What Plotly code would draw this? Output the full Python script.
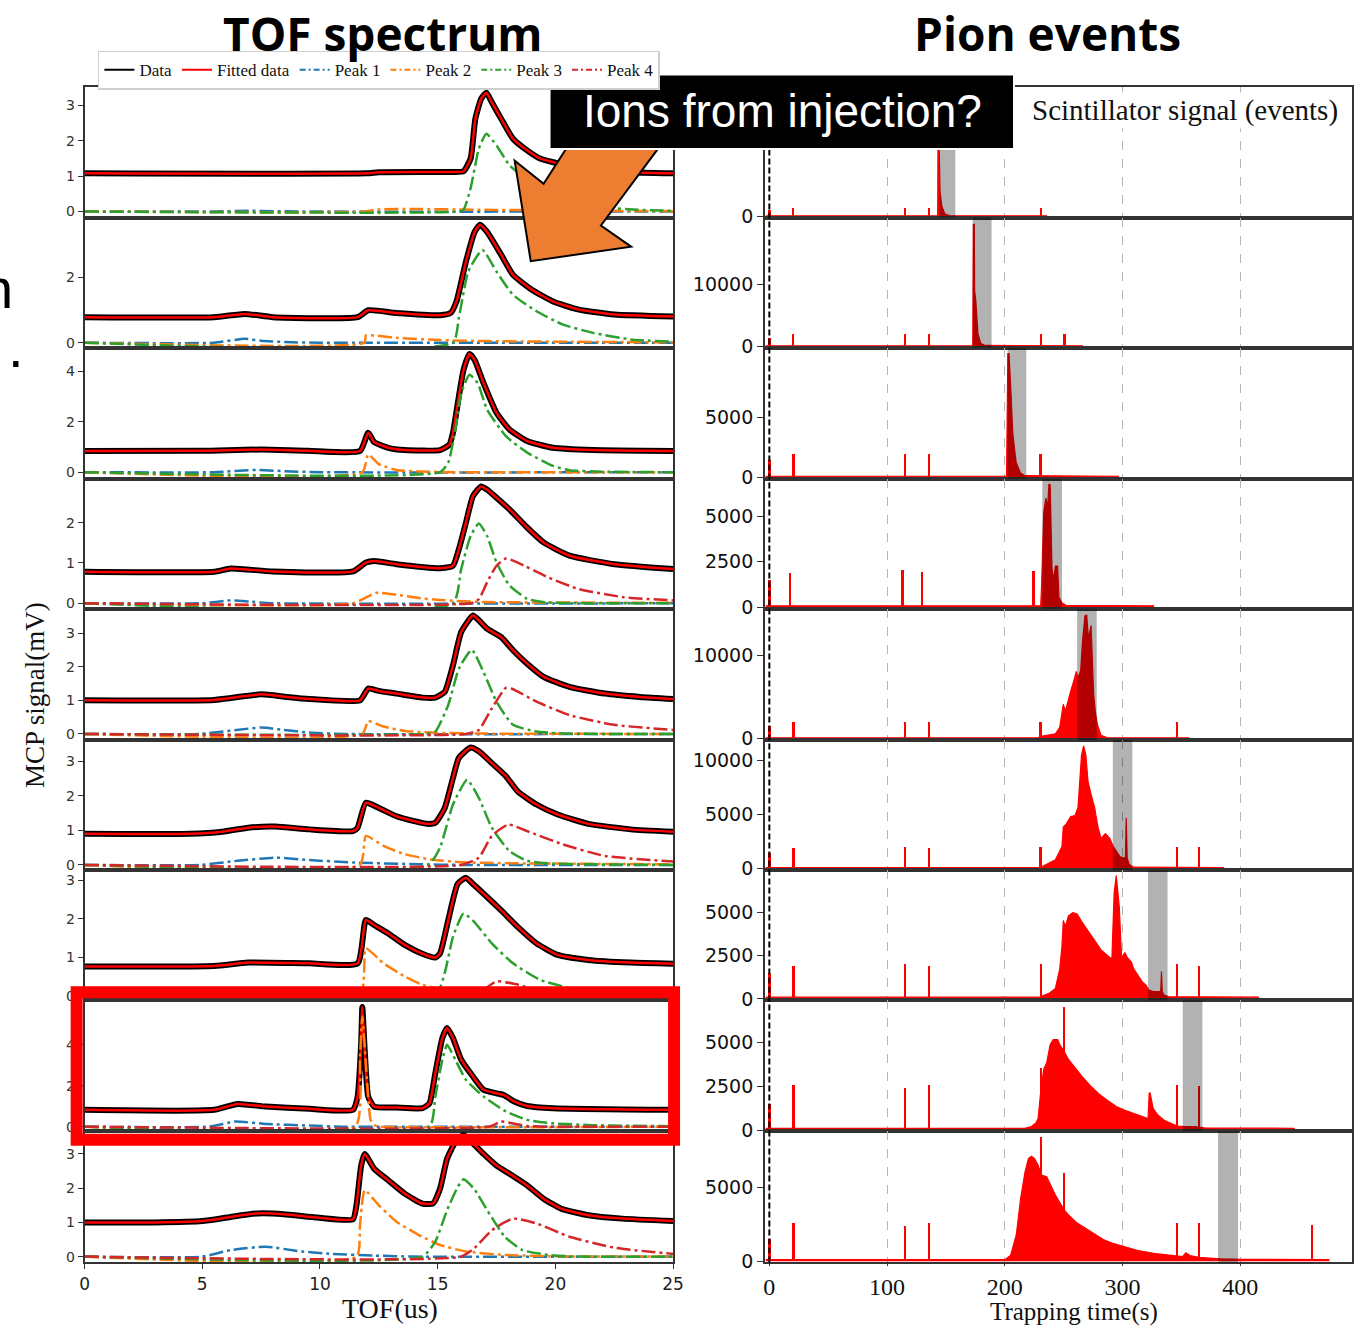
import plotly.graph_objects as go

W, H = 1365, 1336

# ---------------- TOF spectrum data (t in us, signal in mV) ----------------
L1_FIT = [(0,1.08),(12,1.08),(12.5,1.11),(15.6,1.12),(16.1,1.14),(16.4,1.5),(16.6,2.62),(16.85,3.19),(17.07,3.36),(17.3,3.09),(17.7,2.62),(18.2,2.06),(18.8,1.73),(19.35,1.5),(20,1.38),(21,1.25),(22,1.16),(23,1.11),(25,1.08)]
L1_P1 = [(0,0),(5.5,0),(7,0.02),(9,0),(25,0)]
L1_P2 = [(0,0),(11.9,0),(12.5,0.06),(14,0.07),(17,0.05),(20,0.03),(25,0.01)]
L1_P3 = [(0,0),(15.9,0),(16.1,0.05),(16.4,0.66),(16.75,1.78),(17.07,2.2),(17.5,1.87),(18.05,1.31),(19,0.8),(20,0.45),(21,0.25),(22,0.12),(23.5,0.05),(25,0.02)]

L2_FIT = [(0,0.78),(5.5,0.78),(6.8,0.88),(8,0.78),(11.6,0.78),(12.05,0.99),(13.25,0.91),(15.1,0.84),(15.55,0.91),(15.8,1.26),(16.2,2.47),(16.57,3.38),(16.8,3.6),(17.1,3.38),(17.7,2.68),(18.2,2.07),(19,1.62),(19.9,1.26),(21,1.01),(22.5,0.86),(25,0.8)]
L2_P1 = [(0,0),(5.5,0),(6.8,0.12),(7.5,0.06),(8.5,0.02),(10,0),(25,0)]
L2_P2 = [(0,0),(11.9,0),(11.95,0.22),(13.25,0.15),(15.1,0.08),(17,0.05),(25,0.01)]
L2_P3 = [(0,0),(15.65,0),(15.9,0.76),(16.3,2.17),(16.9,2.83),(17.5,2.17),(18.2,1.46),(19.2,0.96),(20.3,0.56),(21.6,0.3),(23.2,0.1),(25,0.03)]

L3_FIT = [(0,0.84),(5,0.85),(7.5,0.9),(9.5,0.85),(11.7,0.84),(12.05,1.57),(12.3,1.2),(12.9,0.97),(13.6,0.88),(15.1,0.88),(15.5,1.1),(15.65,1.57),(15.9,3.01),(16.1,4.07),(16.35,4.7),(16.57,4.46),(16.95,3.54),(17.5,2.36),(18.05,1.7),(18.8,1.24),(19.9,0.97),(21.6,0.88),(25,0.84)]
L3_P1 = [(0,0),(5.5,0),(7.3,0.09),(8.5,0.04),(10,0),(25,0)]
L3_P2 = [(0,0),(11.8,0),(12.05,0.71),(12.5,0.32),(13.25,0.09),(14.2,0.03),(16,0),(25,0)]
L3_P3 = [(0,0),(15.1,0),(15.45,0.38),(15.75,1.7),(16,3.14),(16.35,3.87),(16.7,3.54),(17.1,2.49),(17.9,1.43),(18.8,0.78),(19.9,0.25),(20.6,0.08),(22,0.02),(25,0)]

L4_FIT = [(0,0.78),(5.5,0.78),(6.2,0.86),(8,0.79),(11.4,0.79),(11.95,1.01),(12.3,1.05),(13.25,0.97),(15.1,0.87),(15.65,0.93),(15.9,1.34),(16.2,2.0),(16.5,2.66),(16.85,2.9),(17.1,2.82),(17.5,2.62),(18.05,2.33),(18.8,1.88),(19.5,1.51),(20.6,1.18),(22.5,0.97),(25,0.85)]
L4_P1 = [(0,0),(5,0),(6.2,0.07),(7,0.04),(8,0),(25,0)]
L4_P2 = [(0,0),(11.4,0),(12.4,0.26),(13.25,0.21),(14.2,0.13),(15.1,0.08),(17,0.03),(25,0.01)]
L4_P3 = [(0,0),(15.65,0),(16,0.85),(16.4,1.67),(16.75,1.98),(17.1,1.67),(17.5,1.01),(18.05,0.44),(18.8,0.11),(19.6,0.02),(25,0)]
L4_P4 = [(0,0),(16.4,0),(16.75,0.1),(17.1,0.52),(17.5,0.93),(17.9,1.11),(18.4,1.01),(19.7,0.64),(21,0.35),(22.9,0.15),(25,0.07)]

L5_FIT = [(0,1.0),(5.5,1.01),(7.5,1.18),(8.6,1.1),(9.55,1.04),(11.7,1.0),(12.05,1.35),(12.5,1.28),(13.25,1.2),(14.35,1.08),(14.9,1.08),(15.3,1.25),(15.65,2.04),(16,3.03),(16.5,3.52),(16.75,3.38),(17.1,3.13),(17.7,2.88),(18.2,2.49),(18.8,2.09),(19.5,1.7),(20.6,1.4),(22.1,1.2),(23.6,1.1),(25,1.04)]
L5_P1 = [(0,0),(4.9,0),(7.5,0.19),(8.45,0.12),(9.55,0.04),(11,0),(25,0)]
L5_P2 = [(0,0),(11.8,0),(12.05,0.38),(12.7,0.22),(13.6,0.09),(14.7,0.04),(17,0.01),(25,0)]
L5_P3 = [(0,0),(14.5,0),(14.9,0.07),(15.45,0.86),(15.9,1.94),(16.45,2.5),(16.95,1.84),(17.5,0.96),(18.2,0.27),(19.2,0.07),(20.5,0.01),(25,0)]
L5_P4 = [(0,0),(16.2,0),(16.75,0.12),(17.3,0.76),(17.9,1.37),(18.2,1.33),(19.2,0.96),(20.6,0.56),(22.5,0.27),(25,0.12)]

L6_FIT = [(0,0.9),(4.5,0.9),(5.85,0.96),(6.95,1.08),(8.1,1.11),(9.55,1.03),(11.4,0.98),(11.6,1.08),(11.95,1.8),(12.5,1.65),(13.25,1.41),(14,1.27),(14.55,1.19),(14.9,1.22),(15.3,1.65),(15.65,2.52),(15.9,3.1),(16.4,3.4),(16.75,3.29),(17.3,2.95),(17.9,2.57),(18.4,2.13),(19.2,1.75),(20.1,1.46),(21.4,1.19),(23.2,1.03),(25,0.96)]
L6_P1 = [(0,0),(4.9,0),(6.5,0.12),(8.1,0.21),(9.55,0.14),(11.4,0.07),(14.2,0.02),(16,0),(25,0)]
L6_P2 = [(0,0),(11.7,0),(11.95,0.84),(12.7,0.55),(13.6,0.31),(14.7,0.16),(16.2,0.07),(25,0.02)]
L6_P3 = [(0,0),(14.6,0),(15.1,0.5),(15.65,1.75),(16.25,2.47),(16.75,1.94),(17.3,1.08),(18.05,0.4),(18.8,0.12),(19.9,0.04),(25,0)]
L6_P4 = [(0,0),(16,0),(16.75,0.21),(17.3,0.84),(18,1.17),(18.8,0.98),(20.3,0.6),(22.1,0.26),(25,0.1)]

L7_FIT = [(0,0.76),(5.5,0.77),(6.95,0.86),(9.55,0.84),(11.6,0.84),(11.95,1.97),(12.3,1.84),(12.9,1.62),(13.6,1.32),(14.35,1.09),(14.9,0.99),(15.1,1.1),(15.45,1.97),(15.85,2.91),(16.2,3.07),(16.55,2.88),(17.1,2.57),(17.7,2.22),(18.4,1.79),(19.2,1.36),(20.1,1.06),(21.4,0.93),(23.2,0.86),(25,0.83)]
L7_P1 = [(0,0),(5,0),(7,0.08),(9,0.04),(11,0),(25,0)]
L7_P2 = [(0,0),(11.7,0),(11.95,1.23),(12.7,0.84),(13.6,0.5),(14.35,0.28),(15.5,0.12),(17,0.05),(25,0.01)]
L7_P3 = [(0,0),(14.9,0),(15.3,0.59),(15.65,1.53),(16.1,2.14),(16.55,1.92),(17.3,1.36),(18.2,0.84),(19.35,0.41),(20.6,0.2),(22,0.08),(25,0.02)]
L7_P4 = [(0,0),(16.5,0),(17.5,0.37),(18.3,0.3),(19.5,0.1),(21,0.02),(25,0)]

L8_FIT = [(0,0.82),(5.5,0.82),(6.5,1.11),(7.7,0.98),(9.55,0.87),(11.4,0.82),(11.6,1.47),(11.75,4.08),(11.8,5.85),(11.9,3.76),(12.05,1.47),(12.3,0.98),(13.25,0.93),(14.35,0.9),(14.65,1.14),(14.9,2.61),(15.2,4.33),(15.4,4.82),(15.65,4.33),(16,3.27),(16.5,2.45),(16.95,1.8),(17.5,1.63),(17.8,1.55),(18.25,1.23),(18.8,1.01),(19.9,0.9),(25,0.82)]
L8_P1 = [(0,0),(5.3,0),(6.4,0.25),(7.7,0.13),(9.55,0.05),(11,0),(25,0)]
L8_P2 = [(0,0),(11.5,0),(11.7,3.43),(11.8,5.39),(11.95,3.1),(12.15,0.33),(12.3,0.08),(12.6,0),(25,0)]
L8_P3 = [(0,0),(14.65,0),(14.9,1.47),(15.2,3.27),(15.4,4.0),(15.75,3.27),(16.2,2.29),(16.95,1.47),(17.9,0.74),(18.8,0.33),(19.9,0.16),(21.6,0.07),(25,0.02)]
L8_P4 = [(0,0),(17.2,0),(17.7,0.25),(18.2,0.15),(18.8,0.03),(19.5,0),(25,0)]

L9_FIT = [(0,1.0),(3,1.0),(5,1.04),(6.2,1.16),(7.35,1.26),(8.45,1.24),(9.9,1.14),(11.4,1.09),(11.55,1.5),(11.75,2.66),(11.9,3.0),(12.3,2.57),(12.9,2.23),(13.6,1.84),(14.35,1.55),(14.8,1.55),(15.1,1.98),(15.4,2.86),(15.75,3.34),(16.1,3.55),(16.6,3.24),(16.95,3.0),(17.5,2.66),(18.05,2.42),(18.8,2.08),(19.5,1.69),(20.25,1.4),(21.4,1.21),(22.85,1.11),(25,1.04)]
L9_P1 = [(0,0),(5,0),(6.2,0.19),(7.7,0.29),(9.2,0.15),(10.5,0.08),(12.3,0.03),(14,0),(25,0)]
L9_P2 = [(0,0),(11.55,0),(11.7,0.92),(11.9,1.94),(12.5,1.5),(13.25,1.02),(14.2,0.63),(15.1,0.34),(16.2,0.15),(17.85,0.05),(20,0.01),(25,0)]
L9_P3 = [(0,0),(14.35,0),(14.9,0.44),(15.4,1.36),(15.85,2.03),(16.1,2.26),(16.55,1.98),(17.1,1.36),(17.85,0.58),(18.6,0.19),(19.7,0.05),(21,0),(25,0)]
L9_P4 = [(0,0),(16,0),(16.55,0.24),(17.3,0.77),(18.2,1.11),(19.2,0.97),(20.6,0.58),(22.5,0.26),(25,0.08)]

LEFT_YRANGES = [(-0.17,3.51),(-0.15,3.82),(-0.26,4.95),(-0.14,3.09),(-0.18,3.72),(-0.15,3.62),(-0.12,3.27),(-0.23,6.18),(-0.17,3.66)]
LEFT_YTICKS = [[0,1,2,3],[0,2],[0,2,4],[0,1,2],[0,1,2,3],[0,1,2,3],[0,1,2,3],[0,2,4],[0,1,2,3]]
TOF_XTICKS = [0,5,10,15,20,25]

# ---------------- Pion events data (trapping time in s, events) ----------------
R1_HIST = [(-3,100),(143.0,100),(143.4,30000),(144.2,12000),(145,6000),(146.5,2500),(149,600),(153,150),(236,100)]
R2_HIST = [(-3,100),(172.8,100),(173.3,19800),(174.1,19800),(174.4,9000),(175.4,7450),(177.2,2100),(179.5,500),(183,150),(266.5,100)]
R3_HIST = [(-3,100),(201.5,100),(202.6,10300),(203.6,10300),(205.3,7000),(206.8,3700),(208.2,2470),(209.7,1240),(213.4,360),(217,150),(297,100)]
R4_HIST = [(-3,100),(230.5,100),(231.2,1070),(233.1,5180),(234.9,5980),(236.4,5450),(237.5,6730),(238.6,6700),(240.1,2140),(241.6,1520),(243,2270),(244.9,2270),(246,560),(248.6,250),(252,120),(326.9,100)]
R5_HIST = [(-3,100),(228,100),(231.9,300),(236,400),(243,590),(246.7,1370),(249.7,4120),(251.5,3300),(254.1,4510),(256,5690),(258.5,6860),(260.8,8040),(262.2,7250),(264.5,8120),(266,11570),(268.1,14700),(269.6,14780),(271.1,11960),(273.3,13530),(275.5,5290),(277,3140),(278.9,1570),(281.8,390),(287.4,100),(356.8,100)]
R6_HIST = [(-3,100),(228,100),(231.9,200),(243,840),(248.6,2050),(249.7,3850),(252.3,4150),(256,4820),(259.7,4910),(262.2,5660),(265.2,10480),(267,11330),(268.9,10480),(270.7,8070),(273.3,6870),(276.3,5660),(279.2,3850),(281.8,2800),(285.5,3250),(289.2,2800),(292.2,2050),(294.7,1600),(297.7,1140),(300.3,1000),(302.5,1000),(303.2,4700),(304,1000),(305.8,390),(309.5,150),(386.3,100)]
R7_HIST = [(-3,100),(229,100),(231.2,150),(237.5,320),(243,610),(246.7,1740),(248.6,3070),(249.7,4545),(251.5,4200),(254.1,4810),(257.8,5000),(261.5,4920),(265.2,4490),(270.7,3920),(276.3,3350),(281.8,2840),(287.4,2500),(291,2310),(292.9,6140),(294.7,7140),(297.3,5340),(299.2,2400),(302.1,2690),(304,2400),(307.7,2120),(309.5,1740),(313.2,1360),(316.9,985),(319.9,800),(322.4,510),(326.1,420),(329.8,420),(332.5,420),(333.1,1590),(333.8,420),(335.4,230),(339.1,130),(415.9,100)]
R8_HIST = [(-3,100),(217,100),(222.7,200),(226.4,400),(228.3,660),(230.2,1970),(233.1,3480),(235.6,3850),(238.6,4890),(241.2,5170),(244.9,5170),(246.7,4890),(250.4,4510),(254.1,4040),(259.7,3570),(265.2,3100),(272.6,2540),(280,2070),(287.4,1690),(294.7,1350),(302.1,1130),(309.5,940),(316.9,750),(321.7,660),(322.7,2120),(323.5,2120),(326.1,1220),(329.8,880),(335.4,560),(340.9,376),(346.4,225),(353.8,190),(361.2,190),(370,120),(446.2,100)]
R9_HIST = [(-3,100),(200.2,100),(205,400),(209.8,1790),(213.5,4260),(217.2,6050),(220.1,6950),(222.7,7110),(225.3,6950),(228.3,6500),(231.2,5830),(235.6,5717),(243,4480),(250.4,3475),(254.1,3140),(261.5,2580),(272.6,2020),(283.7,1460),(291,1230),(299.9,1009),(313.2,720),(328,515),(346.4,336),(351,300),(353.8,560),(357.5,380),(364.9,250),(383.4,157),(401.8,120),(475.7,100)]

R1_SPIKES = [(0.3,1500),(20.5,2000),(115.6,2000),(135.7,2000),(230.8,2000)]
R2_SPIKES = [(0.3,1500),(20.5,2020),(115.6,2020),(135.7,2020),(230.8,2020),(250.9,2020)]
R3_SPIKES = [(0.3,1500),(20.7,2005),(115.6,2005),(135.9,2005),(230.5,2005)]
R4_SPIKES = [(0.3,1500),(17.7,1930),(113.4,2090),(129.6,1950),(224.6,2040)]
R5_SPIKES = [(0.3,1500),(20.7,2040),(115.6,2040),(135.9,2040),(230.5,2040),(346.4,2040)]
R6_SPIKES = [(0.3,1500),(20.7,1960),(115.6,2050),(135.9,1960),(230.5,2050),(346.4,2050),(364.9,2050)]
R7_SPIKES = [(0.3,1500),(20.7,1930),(115.6,2030),(135.9,1930),(231.2,2030),(346.4,2030),(364.9,1875)]
R8_SPIKES = [(0.3,1500),(20.7,2575),(115.6,2390),(135.9,2575),(231.2,3515),(250.4,7050),(346.4,2540),(364.9,2500)]
R9_SPIKES = [(0.3,1500),(20.7,2534),(115.6,2354),(135.9,2556),(231.2,8408),(250.4,5987),(346.4,2556),(364.9,2580),(460.9,2400)]

BANDS = [(144.5,158.0),(172.8,188.8),(202.4,218.3),(231.9,248.6),(261.5,278.1),(291.8,308.4),(321.7,338.3),(351.2,367.9),(381.2,398.2)]

RIGHT_YTOPS = [31500,20900,10790,7040,15530,11880,7460,7430,8800]
RIGHT_YTICKS = [[0],[0,10000],[0,5000],[0,2500,5000],[0,10000],[0,5000,10000],[0,2500,5000],[0,2500,5000],[0,5000]]
TRAP_XTICKS = [0,100,200,300,400]
TRAP_GRID = [100,200,300,400]

LEGEND_NAMES = ["Data","Fitted data","Peak 1","Peak 2","Peak 3","Peak 4"]

# ---------------- assemble ----------------
LEFT_FITS = [L1_FIT,L2_FIT,L3_FIT,L4_FIT,L5_FIT,L6_FIT,L7_FIT,L8_FIT,L9_FIT]
LEFT_PEAKS = [
    [L1_P1,L1_P2,L1_P3,None],[L2_P1,L2_P2,L2_P3,None],[L3_P1,L3_P2,L3_P3,None],
    [L4_P1,L4_P2,L4_P3,L4_P4],[L5_P1,L5_P2,L5_P3,L5_P4],[L6_P1,L6_P2,L6_P3,L6_P4],
    [L7_P1,L7_P2,L7_P3,L7_P4],[L8_P1,L8_P2,L8_P3,L8_P4],[L9_P1,L9_P2,L9_P3,L9_P4]]
RIGHT_HISTS = [R1_HIST,R2_HIST,R3_HIST,R4_HIST,R5_HIST,R6_HIST,R7_HIST,R8_HIST,R9_HIST]
RIGHT_SPIKES = [R1_SPIKES,R2_SPIKES,R3_SPIKES,R4_SPIKES,R5_SPIKES,R6_SPIKES,R7_SPIKES,R8_SPIKES,R9_SPIKES]

PEAK_COLORS = ['#1f77b4','#ff7f0e','#2ca02c','#d62728']
DASHDOT = "14px,4px,3px,4px"
FRAME = '#333333'

TOPS = [88,219,350,482,613,745,876,1007,1139]
BOTS = [219,350,482,613,745,876,1007,1139,1271]

def ydom(top, bot):
    return [1 - bot / H, 1 - top / H]

def px_x(x):
    return x / W

def px_y(y):
    return 1 - y / H

fig = go.Figure()

def axname(n):
    return ('x' if n == 1 else f'x{n}'), ('y' if n == 1 else f'y{n}')

# left panels
for i in range(9):
    xa, ya = axname(i + 1)
    pts = LEFT_FITS[i]
    t = [p[0] for p in pts]
    v = [p[1] for p in pts]
    fig.add_trace(go.Scatter(x=t, y=v, mode='lines', xaxis=xa, yaxis=ya, showlegend=False,
                             line=dict(color='black', width=6, shape='spline', smoothing=0.5), hoverinfo='skip'))
    fig.add_trace(go.Scatter(x=t, y=v, mode='lines', xaxis=xa, yaxis=ya, showlegend=False,
                             line=dict(color='#ff0000', width=2.5, shape='spline', smoothing=0.5), hoverinfo='skip'))
    for k, peak in enumerate(LEFT_PEAKS[i]):
        if peak is None:
            continue
        fig.add_trace(go.Scatter(x=[p[0] for p in peak], y=[p[1] for p in peak], mode='lines',
                                 xaxis=xa, yaxis=ya, showlegend=False,
                                 line=dict(color=PEAK_COLORS[k], width=2.5, dash=DASHDOT, shape='spline', smoothing=0.5),
                                 hoverinfo='skip'))

# legend-only entries
leg_styles = [dict(color='black', width=2), dict(color='#ff0000', width=2)] + \
             [dict(color=c, width=2, dash="6px,3px,2px,3px") for c in PEAK_COLORS]
for name, st in zip(LEGEND_NAMES, leg_styles):
    fig.add_trace(go.Scatter(x=[None], y=[None], mode='lines', name=name, line=st, xaxis='x', yaxis='y'))

# right panels
for i in range(9):
    xa, ya = axname(10 + i)
    h = RIGHT_HISTS[i]
    fig.add_trace(go.Scatter(x=[p[0] for p in h], y=[p[1] for p in h], mode='lines', fill='tozeroy',
                             fillcolor='#ff0000', line=dict(color='#ff0000', width=1.2),
                             xaxis=xa, yaxis=ya, showlegend=False, hoverinfo='skip'))
    s = RIGHT_SPIKES[i]
    fig.add_trace(go.Bar(x=[p[0] for p in s], y=[p[1] for p in s], width=1.5,
                         marker=dict(color='#ff0000', line=dict(width=0)),
                         xaxis=xa, yaxis=ya, showlegend=False, hoverinfo='skip'))

layout = dict(width=W, height=H, margin=dict(l=0, r=0, t=0, b=0, pad=0), autosize=False,
              paper_bgcolor='white', plot_bgcolor='white',
              font=dict(family='DejaVu Sans', color='#222222'),
              showlegend=True, bargap=0,
              legend=dict(orientation='h', x=px_x(94), y=px_y(51), xanchor='left', yanchor='top',
                          bgcolor='white', bordercolor='#cfcfcf', borderwidth=1.5,
                          font=dict(family='Liberation Serif', size=17, color='#111111'),
                          itemwidth=30, tracegroupgap=0))

for i in range(9):
    n = i + 1
    xk = 'xaxis' if n == 1 else f'xaxis{n}'
    yk = 'yaxis' if n == 1 else f'yaxis{n}'
    last = (i == 8)
    layout[xk] = dict(domain=[px_x(80.5), px_x(676)], range=[0, 25], anchor=axname(n)[1],
                      showline=True, mirror=True, linecolor=FRAME, linewidth=1.8,
                      showgrid=False, zeroline=False,
                      ticks='outside' if last else '', ticklen=5, tickcolor=FRAME,
                      tickvals=TOF_XTICKS if last else [], showticklabels=last,
                      tickfont=dict(family='DejaVu Sans', size=17, color='#222222'))
    layout[yk] = dict(domain=ydom(TOPS[i], BOTS[i]), range=list(LEFT_YRANGES[i]), anchor=axname(n)[0],
                      showline=True, mirror=True, linecolor=FRAME, linewidth=1.8,
                      showgrid=False, zeroline=False, ticks='outside', ticklen=5, tickcolor=FRAME,
                      tickvals=LEFT_YTICKS[i], tickfont=dict(family='DejaVu Sans', size=14, color='#333333'))

for i in range(9):
    n = 10 + i
    last = (i == 8)
    top = RIGHT_YTOPS[i]
    layout[f'xaxis{n}'] = dict(domain=[px_x(769), px_x(1363)], range=[-3.7, 495], anchor=f'y{n}',
                               showline=True, mirror=True, linecolor=FRAME, linewidth=1.8,
                               showgrid=True, gridcolor='#b5b5b5', gridwidth=0.8, griddash='dash',
                               zeroline=False, tickvals=TRAP_XTICKS if last else TRAP_GRID,
                               ticks='outside' if last else '', ticklen=2, tickcolor=FRAME,
                               showticklabels=last,
                               tickfont=dict(family='Liberation Serif', size=24, color='#111111'))
    layout[f'yaxis{n}'] = dict(domain=ydom(TOPS[i], BOTS[i]), range=[-0.01 * top, top], anchor=f'x{n}',
                               showline=True, mirror=True, linecolor=FRAME, linewidth=1.8,
                               showgrid=False, zeroline=False, ticks='outside', ticklen=6, tickcolor=FRAME,
                               tickvals=RIGHT_YTICKS[i], tickformat='d',
                               tickfont=dict(family='DejaVu Sans', size=19, color='#111111'))

shapes = []
# dashed t=0 line across right column
shapes.append(dict(type='line', xref='x10', yref='paper', x0=0, x1=0, y0=px_y(1271), y1=px_y(88),
                   line=dict(color='black', width=2, dash='6px,3px'), layer='above'))
# gray bands
for i, (a, b) in enumerate(BANDS):
    n = 10 + i
    shapes.append(dict(type='rect', xref=f'x{n}', yref=f'y{n} domain', x0=a, x1=b, y0=0, y1=1,
                       fillcolor='rgba(0,0,0,0.30)', line=dict(width=0), layer='above'))
# orange arrow
arrow_px = [(532, 263), (515.7, 161.7), (545, 185), (587, 120), (683, 120), (603, 227), (633.6, 248.3)]
path = 'M ' + ' L '.join(f'{px_x(x):.5f},{px_y(y):.5f}' for x, y in arrow_px) + ' Z'
shapes.append(dict(type='path', xref='paper', yref='paper', path=path,
                   fillcolor='#ED7D31', line=dict(color='black', width=2), layer='above'))
# black label box
shapes.append(dict(type='rect', xref='paper', yref='paper', x0=px_x(551), x1=px_x(1021), y0=px_y(150), y1=px_y(75),
                   fillcolor='black', line=dict(color='white', width=2), layer='above'))
# red highlight frame
shapes.append(dict(type='rect', xref='paper', yref='paper', x0=px_x(72.5), x1=px_x(677), y0=px_y(1147.5), y1=px_y(999),
                   fillcolor='rgba(0,0,0,0)', line=dict(color='#ff0000', width=12), layer='above'))
layout['shapes'] = shapes

ann = []
ann.append(dict(text='<b>TOF spectrum</b>', x=px_x(382), y=px_y(33), xref='paper', yref='paper', showarrow=False,
                xanchor='center', yanchor='middle', font=dict(family='Open Sans', size=46, color='black')))
ann.append(dict(text='<b>Pion events</b>', x=px_x(1055), y=px_y(33), xref='paper', yref='paper', showarrow=False,
                xanchor='center', yanchor='middle', font=dict(family='Open Sans', size=46, color='black')))
ann.append(dict(text='Ions from injection?', x=px_x(787), y=px_y(112), xref='paper', yref='paper', showarrow=False,
                xanchor='center', yanchor='middle', font=dict(family='Liberation Sans', size=46, color='white')))
ann.append(dict(text='Scintillator signal (events)', x=px_x(1194), y=px_y(111), xref='paper', yref='paper',
                showarrow=False, xanchor='center', yanchor='middle', bgcolor='white',
                font=dict(family='Liberation Serif', size=29, color='#111111')))
ann.append(dict(text='TOF(us)', x=px_x(390), y=px_y(1317), xref='paper', yref='paper', showarrow=False,
                xanchor='center', yanchor='middle', font=dict(family='Liberation Serif', size=28, color='#111111')))
ann.append(dict(text='Trapping time(s)', x=px_x(1082), y=0, xref='paper', yref='paper', showarrow=False,
                xanchor='center', yanchor='bottom', borderpad=0,
                font=dict(family='Liberation Serif', size=25, color='#111111')))
ann.append(dict(text='MCP signal(mV)', x=px_x(31), y=px_y(700), xref='paper', yref='paper', showarrow=False,
                textangle=-90, xanchor='center', yanchor='middle',
                font=dict(family='Liberation Serif', size=27, color='#111111')))
ann.append(dict(text='n', x=px_x(10), y=px_y(290), xref='paper', yref='paper', showarrow=False,
                xanchor='right', yanchor='middle', font=dict(family='Liberation Sans', size=56, color='black')))
ann.append(dict(text='.', x=px_x(11), y=px_y(350), xref='paper', yref='paper', showarrow=False,
                xanchor='center', yanchor='middle', font=dict(family='Liberation Sans', size=56, color='black')))
layout['annotations'] = ann

fig.update_layout(**layout)
fig.write_html('out.html')
